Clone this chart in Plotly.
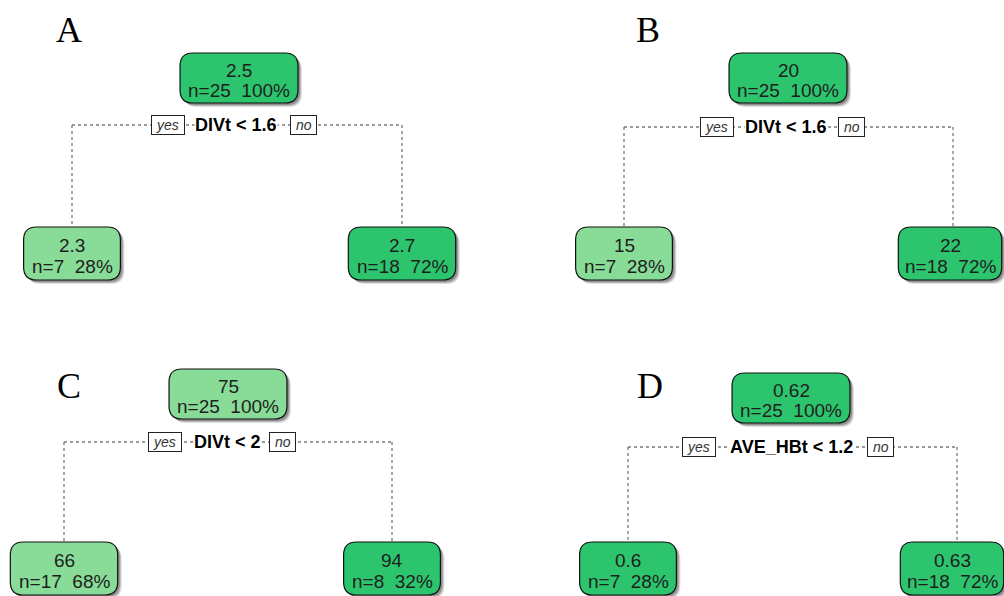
import plotly.graph_objects as go

# ---------------- data ----------------
panel_letters = ["A", "B", "C", "D"]
split_labels = ["DIVt < 1.6", "DIVt < 1.6", "DIVt < 2", "AVE_HBt < 1.2"]
root_values = ["2.5", "20", "75", "0.62"]
left_values = ["2.3", "15", "66", "0.6"]
right_values = ["2.7", "22", "94", "0.63"]
root_n = [25, 25, 25, 25]
left_n = [7, 7, 17, 7]
right_n = [18, 18, 8, 18]
root_pct = [100, 100, 100, 100]
left_pct = [28, 28, 68, 28]
right_pct = [72, 72, 32, 72]
root_shade = ["dark", "dark", "light", "dark"]
left_shade = ["light", "light", "light", "dark"]
right_shade = ["dark", "dark", "dark", "dark"]

# ---------------- layout (positions in page pixels) ----------------
W, H = 1004, 596
panel_layout = [
    dict(letter=(69, 30), root_cx=239, root_top=53, split_y=125, lx=72, rx=402, leaf_top=227,
         yes_cx=168, lab_cx=236, no_cx=303, rbox=402),
    dict(letter=(648, 30), root_cx=788, root_top=53, split_y=127, lx=624, rx=953, leaf_top=227,
         yes_cx=717, lab_cx=786, no_cx=851, rbox=950),
    dict(letter=(69, 386), root_cx=228, root_top=369, split_y=442, lx=64, rx=392, leaf_top=542,
         yes_cx=165, lab_cx=227, no_cx=282, rbox=392),
    dict(letter=(650, 386), root_cx=791, root_top=373, split_y=447, lx=628, rx=957, leaf_top=542,
         yes_cx=699, lab_cx=791, no_cx=880, rbox=952),
]
ROOT_H = 50
LEAF_H = 53
NODE_FONT = 19
COLORS = {"dark": "#2DC46E", "light": "#88DC98"}
TXT = "#1e1e1e"
LINE = "#7a7a7a"
NB = "\u00a0"

# Arial advance widths (per 1000 em) for box sizing
AW = {"n": 556, "=": 584, " ": 278, "\u00a0": 278, "%": 889, ".": 278}
for d in "0123456789":
    AW[d] = 556


def text_w(s, size):
    return sum(AW.get(c, 556) for c in s) * size / 1000.0


def rounded_path(x0, y0, x1, y1, r):
    return (f"M {x0 + r},{y0} L {x1 - r},{y0} Q {x1},{y0} {x1},{y0 + r} "
            f"L {x1},{y1 - r} Q {x1},{y1} {x1 - r},{y1} L {x0 + r},{y1} "
            f"Q {x0},{y1} {x0},{y1 - r} L {x0},{y0 + r} Q {x0},{y0} {x0 + r},{y0} Z")


shapes = []
annotations = []


def add_node(cx, top, h, value, n, pct, shade, pad=16):
    line2 = f"n={n}{NB}{NB}{pct}%"
    w = text_w(line2, NODE_FONT) + pad
    x0, x1 = cx - w / 2, cx + w / 2
    y0, y1 = top, top + h
    r = 13
    # soft shadow
    for off, col in [(4, "rgba(0,0,0,0.12)"), (3, "rgba(0,0,0,0.18)"), (2, "rgba(0,0,0,0.22)")]:
        shapes.append(dict(type="path", path=rounded_path(x0 + off, y0 + off, x1 + off, y1 + off, r),
                           fillcolor=col, line=dict(width=0), layer="above"))
    shapes.append(dict(type="path", path=rounded_path(x0, y0, x1, y1, r),
                       fillcolor=COLORS[shade], line=dict(color="#111111", width=1.2), layer="above"))
    annotations.append(dict(x=cx, y=top + h * 0.34, text=value, showarrow=False,
                            font=dict(family="Liberation Sans, Arial", size=NODE_FONT, color=TXT),
                            xanchor="center", yanchor="middle"))
    annotations.append(dict(x=cx, y=top + h * 0.74, text=line2, showarrow=False,
                            font=dict(family="Liberation Sans, Arial", size=NODE_FONT, color=TXT),
                            xanchor="center", yanchor="middle"))


for i, L in enumerate(panel_layout):
    sy = L["split_y"]
    # dotted connectors
    shapes.append(dict(type="line", x0=L["lx"], y0=sy, x1=L["rx"], y1=sy,
                       line=dict(color=LINE, width=1.3, dash="dot"), layer="below"))
    shapes.append(dict(type="line", x0=L["lx"], y0=sy, x1=L["lx"], y1=L["leaf_top"],
                       line=dict(color=LINE, width=1.3, dash="dot"), layer="below"))
    shapes.append(dict(type="line", x0=L["rx"], y0=sy, x1=L["rx"], y1=L["leaf_top"],
                       line=dict(color=LINE, width=1.3, dash="dot"), layer="below"))

    # split label (white background masks the dotted line)
    annotations.append(dict(x=L["lab_cx"], y=sy, text=f"<b>{split_labels[i]}</b>", showarrow=False,
                            font=dict(family="Liberation Sans, Arial", size=18, color="#000000"),
                            bgcolor="white", borderpad=0, xanchor="center", yanchor="middle"))
    for txt, cx in (("yes", L["yes_cx"]), ("no", L["no_cx"])):
        annotations.append(dict(x=cx, y=sy, text=f"{NB}<i>{txt}</i>{NB}", showarrow=False,
                                font=dict(family="Liberation Sans, Arial", size=14, color="#333333"),
                                bgcolor="white", bordercolor="#222222", borderwidth=1, borderpad=1,
                                xanchor="center", yanchor="middle"))

    add_node(L["root_cx"], L["root_top"], ROOT_H, root_values[i], root_n[i], root_pct[i], root_shade[i])
    add_node(L["lx"], L["leaf_top"], LEAF_H, left_values[i], left_n[i], left_pct[i], left_shade[i])
    add_node(L["rbox"], L["leaf_top"], LEAF_H, right_values[i], right_n[i], right_pct[i], right_shade[i],
             pad=12 if L["rbox"] > 900 else 16)

    lx, ly = L["letter"]
    annotations.append(dict(x=lx, y=ly, text=panel_letters[i], showarrow=False,
                            font=dict(family="Liberation Serif, Times New Roman", size=36, color="#000000"),
                            xanchor="center", yanchor="middle"))

fig = go.Figure()
fig.add_trace(go.Scatter(x=[0, W], y=[0, H], mode="markers",
                         marker=dict(opacity=0), hoverinfo="skip", showlegend=False))
fig.update_layout(
    width=W, height=H,
    margin=dict(l=0, r=0, t=0, b=0),
    paper_bgcolor="white", plot_bgcolor="white",
    xaxis=dict(range=[0, W], visible=False, fixedrange=True),
    yaxis=dict(range=[H, 0], visible=False, fixedrange=True),
    shapes=shapes, annotations=annotations, showlegend=False,
)
fig.write_html(
    "out.html",
    config={"displayModeBar": False},
    post_script="document.body.style.margin='0';document.documentElement.style.overflow='hidden';"
                "document.body.style.overflow='hidden';",
)
